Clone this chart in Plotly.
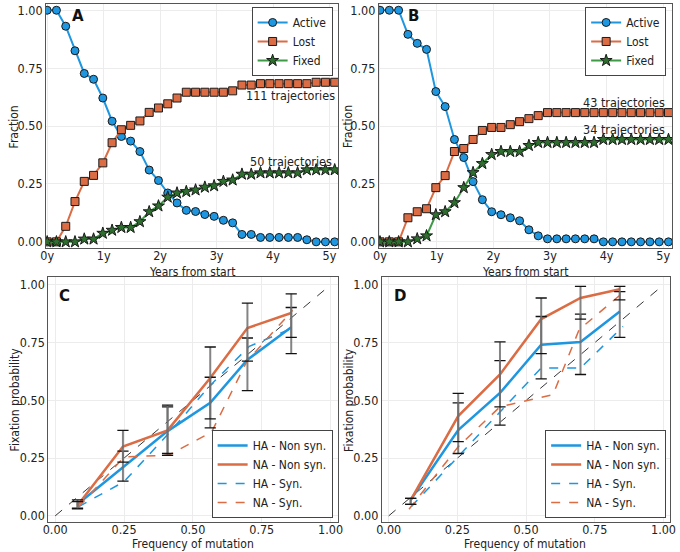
import plotly.graph_objects as go

# ---------------- data: panels A / B ----------------
days = [0, 60, 120, 180, 240, 300, 360, 420, 480, 540, 600, 660, 720, 780, 840, 900,
        960, 1020, 1080, 1140, 1200, 1260, 1320, 1380, 1440, 1500, 1560, 1620, 1680,
        1740, 1800, 1860]
years = [d / 365.25 for d in days]

active_A = [1.00, 1.00, 0.931, 0.825, 0.727, 0.702, 0.621, 0.521, 0.455, 0.435, 0.390,
            0.310, 0.265, 0.211, 0.168, 0.136, 0.131, 0.118, 0.110, 0.093, 0.082, 0.032,
            0.032, 0.019, 0.019, 0.019, 0.019, 0.019, 0.009, 0.0, 0.0, 0.0]
lost_A = [0.0, 0.0, 0.067, 0.174, 0.261, 0.287, 0.341, 0.428, 0.484, 0.503, 0.522,
          0.559, 0.578, 0.596, 0.621, 0.646, 0.646, 0.646, 0.646, 0.646, 0.652, 0.677,
          0.677, 0.683, 0.683, 0.683, 0.683, 0.683, 0.683, 0.689, 0.689, 0.689]
fixed_A = [0.0, 0.0, 0.0, 0.0, 0.012, 0.012, 0.037, 0.050, 0.062, 0.062, 0.087,
           0.130, 0.155, 0.193, 0.211, 0.217, 0.224, 0.236, 0.242, 0.261, 0.267, 0.292,
           0.292, 0.298, 0.298, 0.298, 0.298, 0.298, 0.311, 0.311, 0.311, 0.311]

active_B = [1.00, 1.00, 1.00, 0.896, 0.857, 0.831, 0.649, 0.584, 0.442, 0.364, 0.260,
            0.182, 0.130, 0.117, 0.104, 0.091, 0.052, 0.026, 0.013, 0.013, 0.013, 0.013,
            0.013, 0.013, 0.0, 0.0, 0.0, 0.0, 0.0, 0.0, 0.0, 0.0]
lost_B = [0.0, 0.0, 0.0, 0.104, 0.130, 0.143, 0.234, 0.286, 0.390, 0.403, 0.442,
          0.481, 0.494, 0.494, 0.506, 0.519, 0.532, 0.545, 0.558, 0.558, 0.558, 0.558,
          0.558, 0.558, 0.558, 0.558, 0.558, 0.558, 0.558, 0.558, 0.558, 0.558]
fixed_B = [0.0, 0.0, 0.0, 0.0, 0.013, 0.026, 0.117, 0.130, 0.169, 0.234, 0.299,
           0.338, 0.377, 0.390, 0.390, 0.390, 0.416, 0.429, 0.429, 0.429, 0.429, 0.429,
           0.429, 0.429, 0.442, 0.442, 0.442, 0.442, 0.442, 0.442, 0.442, 0.442]

year_ticks = [0, 1, 2, 3, 4, 5]
year_labels = ["0y", "1y", "2y", "3y", "4y", "5y"]
frac_ticks = [0.0, 0.25, 0.5, 0.75, 1.0]
frac_labels = ["0.00", "0.25", "0.50", "0.75", "1.00"]

# ---------------- data: panel C ----------------
C_ha_ns_x = [0.081, 0.246, 0.408, 0.563, 0.698, 0.857]
C_ha_ns_y = [0.050, 0.209, 0.367, 0.489, 0.676, 0.816]
C_ha_ns_lo = [0.033, 0.150, 0.262, 0.381, 0.542, 0.702]
C_ha_ns_hi = [0.069, 0.280, 0.472, 0.600, 0.770, 0.902]
C_na_ns_x = [0.081, 0.246, 0.408, 0.563, 0.698, 0.857]
C_na_ns_y = [0.045, 0.300, 0.370, 0.597, 0.813, 0.878]
C_na_ns_lo = [0.030, 0.233, 0.270, 0.420, 0.670, 0.773]
C_na_ns_hi = [0.062, 0.370, 0.479, 0.731, 0.921, 0.961]
C_ha_s_x = [0.085, 0.250, 0.412, 0.560, 0.705, 0.862]
C_ha_s_y = [0.040, 0.148, 0.357, 0.561, 0.734, 0.813]
C_na_s_x = [0.085, 0.250, 0.412, 0.568, 0.696, 0.862]
C_na_s_y = [0.038, 0.255, 0.263, 0.363, 0.669, 0.890]

# ---------------- data: panel D ----------------
D_ha_ns_x = [0.080, 0.253, 0.405, 0.555, 0.698, 0.841]
D_ha_ns_y = [0.070, 0.371, 0.532, 0.741, 0.753, 0.885]
D_ha_ns_lo = [0.050, 0.270, 0.393, 0.593, 0.612, 0.773]
D_ha_ns_hi = [0.076, 0.489, 0.672, 0.863, 0.873, 0.971]
D_na_ns_x = [0.080, 0.253, 0.405, 0.555, 0.698, 0.841]
D_na_ns_y = [0.068, 0.432, 0.612, 0.852, 0.943, 0.981]
D_na_ns_lo = [0.050, 0.321, 0.472, 0.702, 0.852, 0.935]
D_na_ns_hi = [0.076, 0.530, 0.753, 0.943, 0.993, 0.993]
D_ha_s_x = [0.082, 0.255, 0.405, 0.555, 0.698, 0.853]
D_ha_s_y = [0.040, 0.259, 0.453, 0.640, 0.640, 0.820]
D_na_s_x = [0.074, 0.255, 0.405, 0.598, 0.693, 0.857]
D_na_s_y = [0.029, 0.302, 0.472, 0.525, 0.806, 0.971]

prob_ticks = [0.0, 0.25, 0.5, 0.75, 1.0]
prob_labels = ["0.00", "0.25", "0.50", "0.75", "1.00"]
diag = [0.0, 1.0]

# ---------------- style ----------------
BLUE = "#1E96E0"
ORANGE = "#DB6C44"
GREEN = "#3F9A45"
GREEN_M = "#2E6E2E"
EDGE = "#1a1a1a"
FONT = "DejaVu Sans Condensed, DejaVu Sans, sans-serif"
W, H = 680, 552


def dom_x(a, b):
    return [a / W, b / W]


def dom_y(top, bottom):
    return [1 - bottom / H, 1 - top / H]


fig = go.Figure()


def add_time_panel(xa, ya, leg, act, lost, fixed):
    fig.add_trace(go.Scatter(x=years, y=act, mode="lines+markers", name="Active",
                             line=dict(color=BLUE, width=2),
                             marker=dict(symbol="circle", size=8, color=BLUE,
                                         line=dict(color=EDGE, width=1)),
                             xaxis=xa, yaxis=ya, legend=leg))
    fig.add_trace(go.Scatter(x=years, y=lost, mode="lines+markers", name="Lost",
                             line=dict(color=ORANGE, width=2),
                             marker=dict(symbol="square", size=8, color=ORANGE,
                                         line=dict(color=EDGE, width=1)),
                             xaxis=xa, yaxis=ya, legend=leg))
    fig.add_trace(go.Scatter(x=years, y=fixed, mode="lines+markers", name="Fixed",
                             line=dict(color=GREEN, width=2),
                             marker=dict(symbol="star", size=9, color=GREEN_M,
                                         line=dict(color=EDGE, width=1)),
                             xaxis=xa, yaxis=ya, legend=leg))


add_time_panel("x", "y", "legend", active_A, lost_A, fixed_A)
add_time_panel("x2", "y2", "legend2", active_B, lost_B, fixed_B)


def add_prob_panel(xa, ya, leg, ha_ns_x, ha_ns_y, ha_lo, ha_hi, na_ns_x, na_ns_y,
                   na_lo, na_hi, ha_s_x, ha_s_y, na_s_x, na_s_y):
    fig.add_trace(go.Scatter(x=diag, y=diag, mode="lines", showlegend=False,
                             line=dict(color="black", width=0.8, dash="dash"),
                             xaxis=xa, yaxis=ya, hoverinfo="skip"))
    fig.add_trace(go.Scatter(x=ha_ns_x, y=ha_ns_y, mode="lines", name="HA - Non syn.",
                             line=dict(color=BLUE, width=2.5), xaxis=xa, yaxis=ya, legend=leg))
    fig.add_trace(go.Scatter(x=na_ns_x, y=na_ns_y, mode="lines", name="NA - Non syn.",
                             line=dict(color=ORANGE, width=2.5), xaxis=xa, yaxis=ya, legend=leg))
    fig.add_trace(go.Scatter(x=ha_s_x, y=ha_s_y, mode="lines", name="HA - Syn.",
                             line=dict(color=BLUE, width=1.5, dash="dash"),
                             xaxis=xa, yaxis=ya, legend=leg))
    fig.add_trace(go.Scatter(x=na_s_x, y=na_s_y, mode="lines", name="NA - Syn.",
                             line=dict(color=ORANGE, width=1.5, dash="dash"),
                             xaxis=xa, yaxis=ya, legend=leg))
    # error bars (gray stems) + black caps
    for xs, ys, lo, hi in ((ha_ns_x, ha_ns_y, ha_lo, ha_hi), (na_ns_x, na_ns_y, na_lo, na_hi)):
        fig.add_trace(go.Scatter(
            x=xs, y=ys, mode="markers", showlegend=False, hoverinfo="skip",
            marker=dict(size=1, opacity=0),
            error_y=dict(type="data", symmetric=False,
                         array=[h - v for h, v in zip(hi, ys)],
                         arrayminus=[v - l for v, l in zip(ys, lo)],
                         color="rgba(110,110,110,0.85)", thickness=2, width=0),
            xaxis=xa, yaxis=ya))
        fig.add_trace(go.Scatter(
            x=list(xs) + list(xs), y=list(lo) + list(hi), mode="markers",
            showlegend=False, hoverinfo="skip",
            marker=dict(symbol="line-ew", size=8, line=dict(color="#111", width=1.3)),
            xaxis=xa, yaxis=ya))


add_prob_panel("x3", "y3", "legend3", C_ha_ns_x, C_ha_ns_y, C_ha_ns_lo, C_ha_ns_hi,
               C_na_ns_x, C_na_ns_y, C_na_ns_lo, C_na_ns_hi,
               C_ha_s_x, C_ha_s_y, C_na_s_x, C_na_s_y)
add_prob_panel("x4", "y4", "legend4", D_ha_ns_x, D_ha_ns_y, D_ha_ns_lo, D_ha_ns_hi,
               D_na_ns_x, D_na_ns_y, D_na_ns_lo, D_na_ns_hi,
               D_ha_s_x, D_ha_s_y, D_na_s_x, D_na_s_y)

axis_common = dict(showline=True, mirror=True, linecolor="#555", linewidth=1,
                   showgrid=True, gridcolor="#ececec", gridwidth=1, zeroline=False,
                   ticks="", tickfont=dict(family=FONT, size=12.5, color="#222"))
xtick_extra = dict(ticklabelstandoff=-4)

fig.update_layout(
    width=W, height=H, margin=dict(l=0, r=0, t=0, b=0),
    paper_bgcolor="white", plot_bgcolor="white",
    font=dict(family=FONT, size=12, color="#222"),
    xaxis=dict(domain=dom_x(40.7, 337.7), anchor="y", range=[-0.02, 5.155],
               tickvals=year_ticks, ticktext=year_labels, **axis_common, **xtick_extra),
    yaxis=dict(domain=dom_y(3, 248), anchor="x", range=[-0.027, 1.027],
               tickvals=frac_ticks, ticktext=frac_labels, **axis_common),
    xaxis2=dict(domain=dom_x(379, 677), anchor="y2", range=[-0.02, 5.155],
                tickvals=year_ticks, ticktext=year_labels, **axis_common, **xtick_extra),
    yaxis2=dict(domain=dom_y(3, 248), anchor="x2", range=[-0.027, 1.027],
                tickvals=frac_ticks, ticktext=frac_labels, **axis_common),
    xaxis3=dict(domain=dom_x(43, 337.5), anchor="y3", range=[-0.025, 1.027],
                tickvals=prob_ticks, ticktext=prob_labels, **axis_common, **xtick_extra),
    yaxis3=dict(domain=dom_y(277, 523), anchor="x3", range=[-0.027, 1.034],
                tickvals=prob_ticks, ticktext=prob_labels, **axis_common),
    xaxis4=dict(domain=dom_x(382, 675), anchor="y4", range=[-0.025, 1.024],
                tickvals=prob_ticks, ticktext=prob_labels, **axis_common, **xtick_extra),
    yaxis4=dict(domain=dom_y(277, 523), anchor="x4", range=[-0.027, 1.034],
                tickvals=prob_ticks, ticktext=prob_labels, **axis_common),
)

legend_common = dict(bgcolor="white", bordercolor="#444", borderwidth=1,
                     font=dict(family=FONT, size=12, color="#222"),
                     tracegroupgap=0, itemwidth=30)
fig.update_layout(
    legend=dict(x=332 / W, y=1 - 6 / H, xanchor="right", yanchor="top", **legend_common),
    legend2=dict(x=671 / W, y=1 - 6 / H, xanchor="right", yanchor="top", **legend_common),
    legend3=dict(x=332 / W, y=1 - 519 / H, xanchor="right", yanchor="bottom", **legend_common),
    legend4=dict(x=671 / W, y=1 - 519 / H, xanchor="right", yanchor="bottom", **legend_common),
)

annots = []
# panel letters
for txt, px, py in (("A", 73, 15), ("B", 414, 15), ("C", 59, 296), ("D", 400, 296)):
    annots.append(dict(text="<b>%s</b>" % txt, x=px / W, y=1 - py / H, xref="paper",
                       yref="paper", showarrow=False, xanchor="center", yanchor="middle",
                       font=dict(family="DejaVu Sans, sans-serif", size=15, color="#111")))
# axis titles
for txt, px, py, ang in (("Fraction", 8, 126, -90), ("Fraction", 347, 126, -90),
                         ("Fixation probability", 9, 400, -90),
                         ("Fixation probability", 348, 400, -90),
                         ("Years from start", 189, 271.5, 0), ("Years from start", 528, 271.5, 0),
                         ("Frequency of mutation", 190, 544.5, 0),
                         ("Frequency of mutation", 528, 544.5, 0)):
    annots.append(dict(text=txt, x=px / W, y=1 - py / H, xref="paper", yref="paper",
                       showarrow=False, xanchor="center", yanchor="middle", textangle=ang,
                       font=dict(family=FONT, size=12, color="#222")))
# trajectory counts
for txt, xr, yr, xv, yv in (("111 trajectories", "x", "y", 5.13, 0.631),
                            ("50 trajectories", "x", "y", 5.08, 0.348),
                            ("43 trajectories", "x2", "y2", 5.07, 0.602),
                            ("34 trajectories", "x2", "y2", 5.07, 0.487)):
    annots.append(dict(text=txt, x=xv, y=yv, xref=xr, yref=yr, showarrow=False,
                       xanchor="right", yanchor="middle",
                       font=dict(family=FONT, size=12.5, color="#222")))
fig.update_layout(annotations=annots)

fig.write_html("out.html",
               config={"displayModeBar": False},
               post_script="document.body.style.margin='0px';"
                           "document.body.style.overflow='hidden';")
